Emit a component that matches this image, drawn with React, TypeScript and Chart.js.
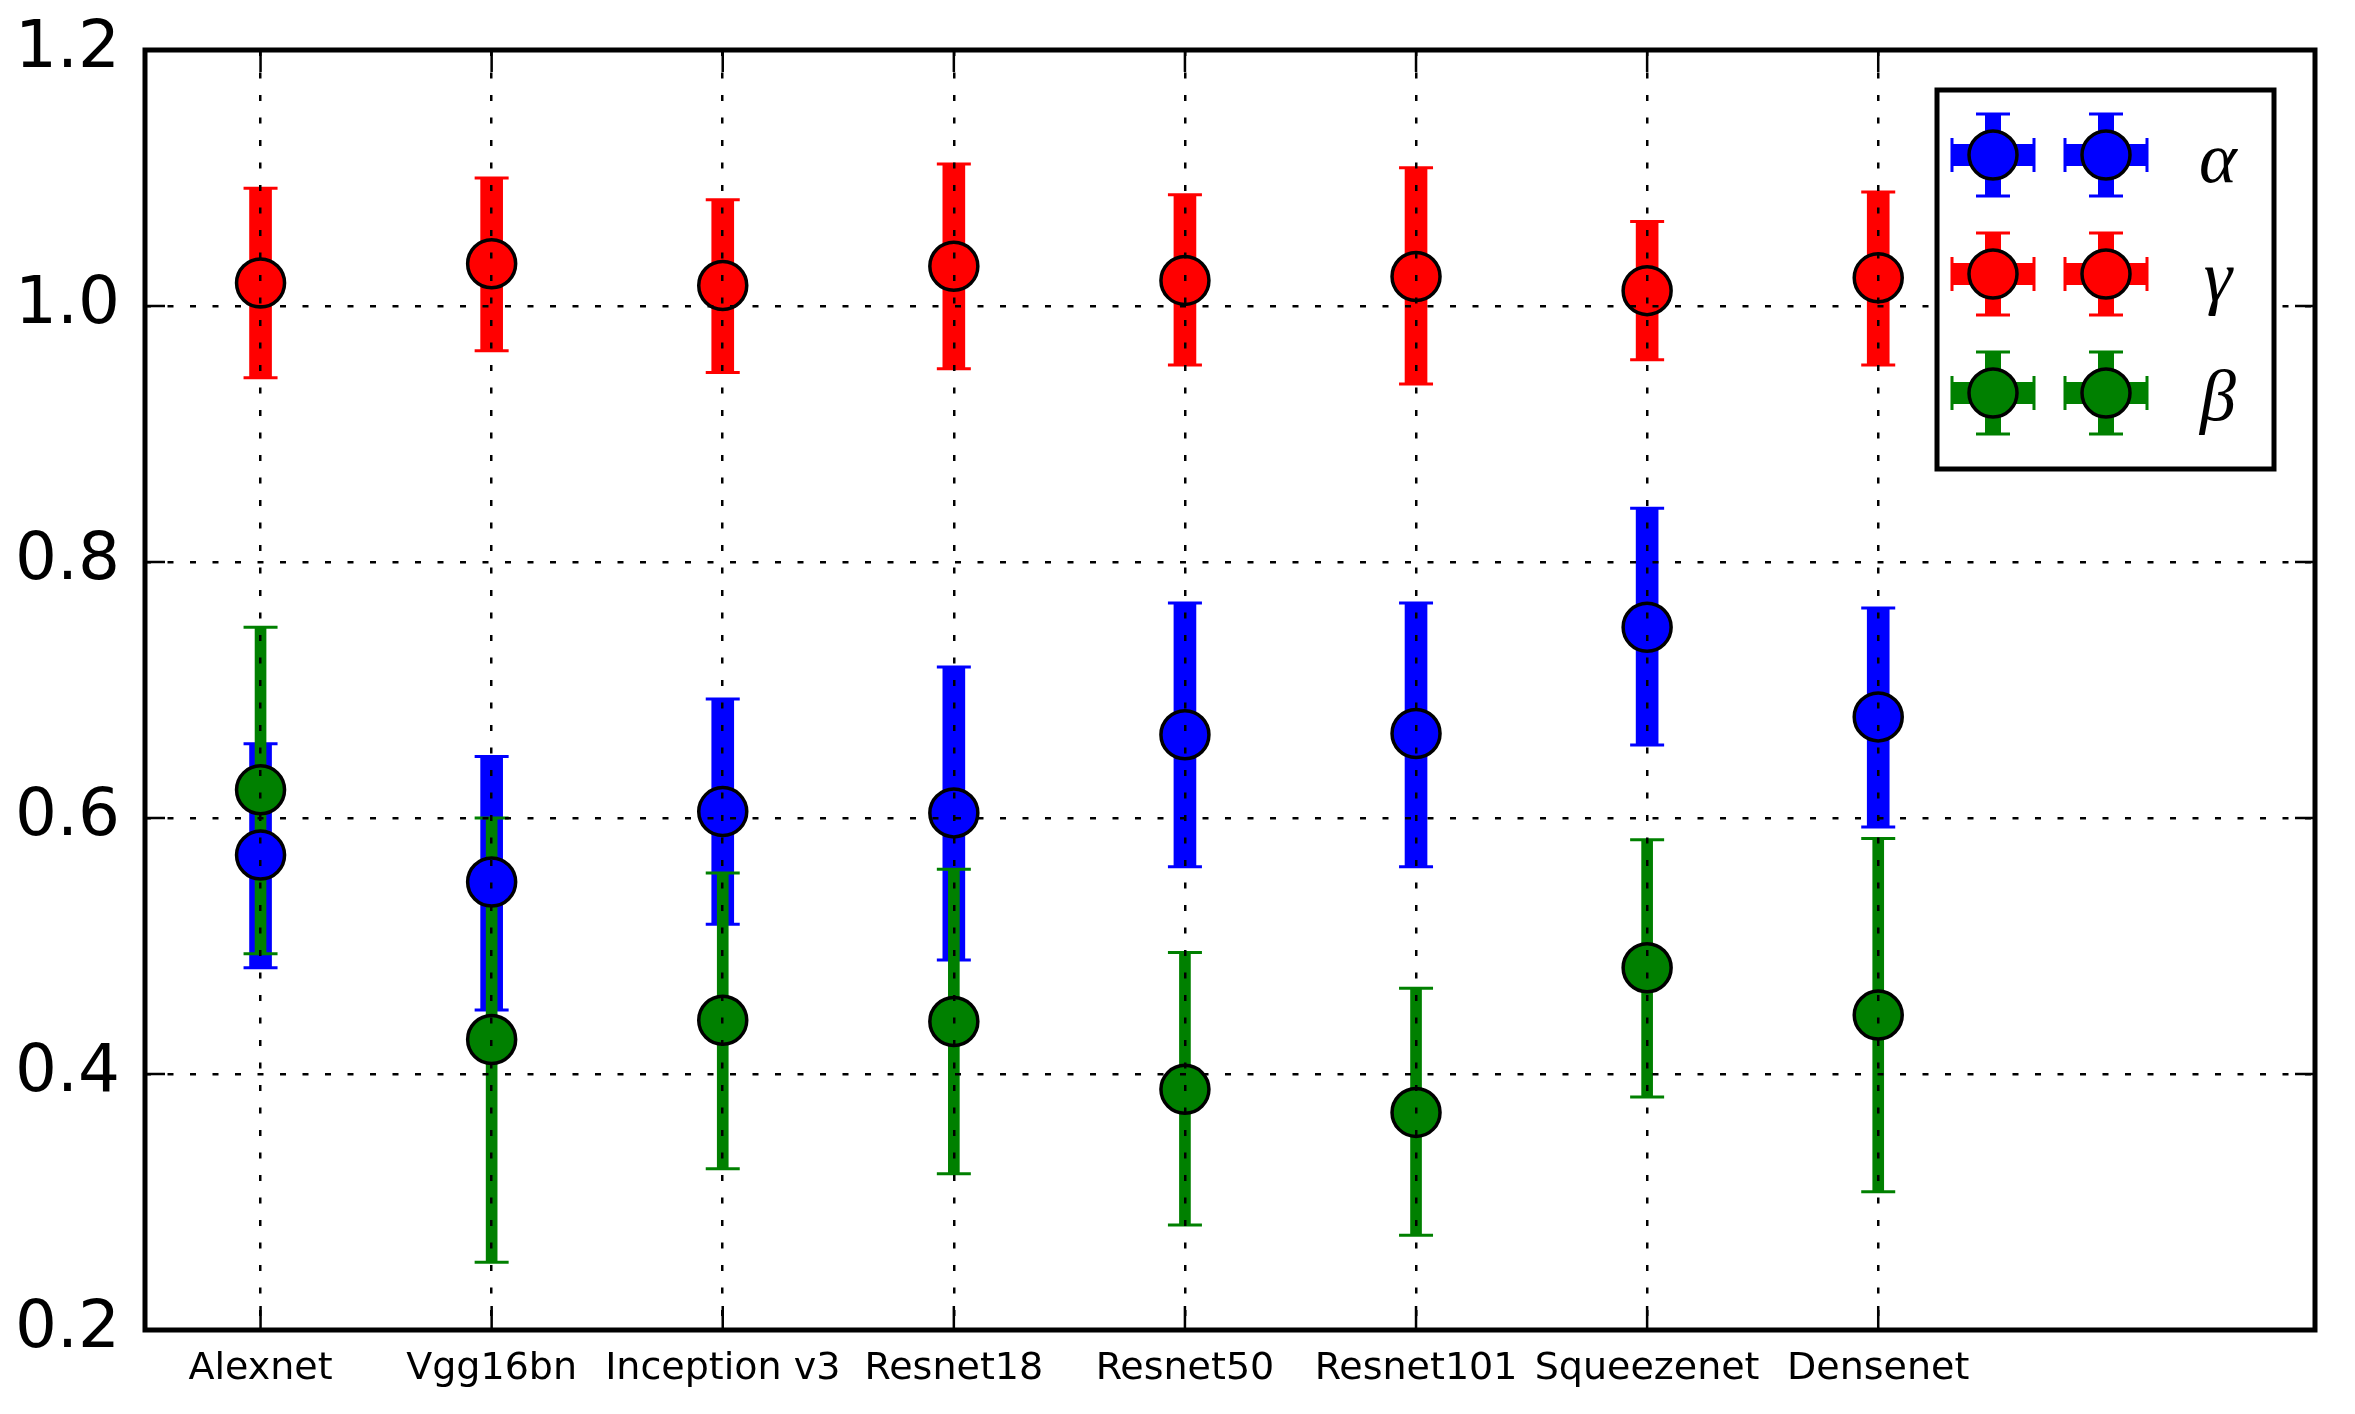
import React, { useEffect, useRef } from 'react';
import { Chart, registerables } from 'chart.js';

Chart.register(...registerables);

const categories = ['Alexnet', 'Vgg16bn', 'Inception v3', 'Resnet18', 'Resnet50', 'Resnet101', 'Squeezenet', 'Densenet'];

// alpha (blue)
const alphaMean = [0.571, 0.55, 0.605, 0.604, 0.665, 0.666, 0.749, 0.679];
const alphaLow = [0.483, 0.45, 0.517, 0.489, 0.562, 0.562, 0.657, 0.593];
const alphaHigh = [0.658, 0.648, 0.693, 0.718, 0.768, 0.768, 0.842, 0.764];

// gamma (red)
const gammaMean = [1.018, 1.033, 1.016, 1.031, 1.02, 1.023, 1.012, 1.022];
const gammaLow = [0.944, 0.965, 0.948, 0.951, 0.954, 0.939, 0.958, 0.954];
const gammaHigh = [1.092, 1.1, 1.083, 1.111, 1.087, 1.108, 1.066, 1.089];

// beta (green)
const betaMean = [0.622, 0.427, 0.442, 0.441, 0.388, 0.37, 0.483, 0.446];
const betaLow = [0.494, 0.253, 0.326, 0.322, 0.282, 0.274, 0.382, 0.308];
const betaHigh = [0.749, 0.6, 0.557, 0.56, 0.495, 0.467, 0.583, 0.584];

const yTicks = [0.2, 0.4, 0.6, 0.8, 1.0, 1.2];

const legendItems = [
  { label: 'α', color: '#0000ff' },
  { label: 'γ', color: '#ff0000' },
  { label: 'β', color: '#008000' },
];

const bars = (label: string, low: number[], high: number[], color: string, thickness: number, order: number) => ({
  type: 'bar' as const,
  label,
  data: low.map((lo, i) => ({ x: i, y: [lo, high[i]] })),
  backgroundColor: color,
  borderWidth: 0,
  barThickness: thickness,
  grouped: false,
  order,
});

const caps = (label: string, low: number[], high: number[], color: string, order: number) => ({
  type: 'scatter' as const,
  label,
  data: [...low.map((v, i) => ({ x: i, y: v })), ...high.map((v, i) => ({ x: i, y: v }))],
  pointStyle: 'line',
  pointRadius: 17,
  pointBorderWidth: 3,
  pointBorderColor: color,
  borderColor: color,
  showLine: false,
  order,
});

const markers = (label: string, mean: number[], color: string, order: number) => ({
  type: 'scatter' as const,
  label,
  data: mean.map((v, i) => ({ x: i, y: v })),
  pointStyle: 'circle',
  pointRadius: 24,
  pointBorderWidth: 3.5,
  pointBackgroundColor: color,
  pointBorderColor: '#000',
  showLine: false,
  order,
});

// frame, inward ticks and the errorbar legend
const framePlugin = {
  id: 'frameAndLegend',
  afterDraw(chart: Chart) {
    const { ctx, chartArea: a, scales } = chart;
    const x = scales.x;
    const y = scales.y;
    ctx.save();
    ctx.strokeStyle = '#000';
    ctx.lineWidth = 2.5;
    ctx.setLineDash([]);
    categories.forEach((_, i) => {
      const px = x.getPixelForValue(i);
      ctx.beginPath();
      ctx.moveTo(px, a.bottom);
      ctx.lineTo(px, a.bottom - 24);
      ctx.moveTo(px, a.top);
      ctx.lineTo(px, a.top + 22);
      ctx.stroke();
    });
    yTicks.slice(1, -1).forEach(v => {
      const py = y.getPixelForValue(v);
      ctx.beginPath();
      ctx.moveTo(a.left, py);
      ctx.lineTo(a.left + 20, py);
      ctx.moveTo(a.right, py);
      ctx.lineTo(a.right - 20, py);
      ctx.stroke();
    });
    ctx.lineWidth = 5;
    ctx.strokeRect(a.left, a.top, a.right - a.left, a.bottom - a.top);

    // legend
    const bx = a.right - 378;
    const by = a.top + 40;
    const bw = 337;
    const bh = 379;
    ctx.fillStyle = '#fff';
    ctx.fillRect(bx, by, bw, bh);
    ctx.lineWidth = 5;
    ctx.strokeRect(bx, by, bw, bh);
    legendItems.forEach((item, r) => {
      const cy = by + 65 + r * 119;
      [bx + 56, bx + 169].forEach(cx => {
        ctx.fillStyle = item.color;
        ctx.fillRect(cx - 41, cy - 11, 82, 22);
        ctx.fillRect(cx - 8, cy - 41, 16, 82);
        ctx.strokeStyle = item.color;
        ctx.lineWidth = 3;
        ctx.beginPath();
        ctx.moveTo(cx - 41, cy - 17);
        ctx.lineTo(cx - 41, cy + 17);
        ctx.moveTo(cx + 41, cy - 17);
        ctx.lineTo(cx + 41, cy + 17);
        ctx.moveTo(cx - 17, cy - 41);
        ctx.lineTo(cx + 17, cy - 41);
        ctx.moveTo(cx - 17, cy + 41);
        ctx.lineTo(cx + 17, cy + 41);
        ctx.stroke();
        ctx.beginPath();
        ctx.arc(cx, cy, 24, 0, Math.PI * 2);
        ctx.fill();
        ctx.strokeStyle = '#000';
        ctx.lineWidth = 3.5;
        ctx.stroke();
      });
      ctx.fillStyle = '#000';
      ctx.font = 'italic 72px "Liberation Serif"';
      ctx.textAlign = 'center';
      ctx.textBaseline = 'alphabetic';
      ctx.fillText(item.label, bx + 281, cy + 27);
    });
    ctx.restore();
  },
};

const ErrorbarChart: React.FC = () => {
  const chartRef = useRef<HTMLCanvasElement>(null);
  const chartInstanceRef = useRef<Chart | null>(null);

  useEffect(() => {
    if (!chartRef.current) return;
    if (chartInstanceRef.current) {
      chartInstanceRef.current.destroy();
    }
    const ctx = chartRef.current.getContext('2d');
    if (!ctx) return;

    chartInstanceRef.current = new Chart(ctx, {
      type: 'scatter',
      data: {
        datasets: [
          bars('alpha bars', alphaLow, alphaHigh, '#0000ff', 22, 9),
          caps('alpha caps', alphaLow, alphaHigh, '#0000ff', 8),
          bars('gamma bars', gammaLow, gammaHigh, '#ff0000', 22, 7),
          caps('gamma caps', gammaLow, gammaHigh, '#ff0000', 6),
          bars('beta bars', betaLow, betaHigh, '#008000', 11, 5),
          caps('beta caps', betaLow, betaHigh, '#008000', 4),
          markers('α', alphaMean, '#0000ff', 3),
          markers('γ', gammaMean, '#ff0000', 2),
          markers('β', betaMean, '#008000', 1),
        ] as any,
      },
      plugins: [framePlugin],
      options: {
        animation: false,
        responsive: true,
        maintainAspectRatio: false,
        events: [],
        layout: { padding: { top: 50, right: 40, left: 0, bottom: 0 } },
        plugins: {
          legend: { display: false },
          tooltip: { enabled: false },
        },
        scales: {
          x: {
            type: 'linear',
            min: -0.5,
            max: 8.89,
            offset: false,
            afterBuildTicks: (axis: any) => {
              axis.ticks = categories.map((_, i) => ({ value: i }));
            },
            afterFit: (axis: any) => {
              axis.height = 84;
              axis.paddingLeft = 0;
              axis.paddingRight = 0;
            },
            // grid on top of the data, as in the original
            grid: { color: '#000', lineWidth: 2.5, drawTicks: false, offset: false, z: 1 },
            border: { display: false, dash: [6, 16.5] },
            ticks: {
              autoSkip: false,
              maxRotation: 0,
              padding: 16,
              color: '#000',
              font: { family: 'DejaVu Sans', size: 38 },
              callback: (v: any) => categories[v] ?? '',
            },
          },
          y: {
            type: 'linear',
            min: 0.2,
            max: 1.2,
            afterBuildTicks: (axis: any) => {
              axis.ticks = yTicks.map(v => ({ value: v }));
            },
            afterFit: (axis: any) => {
              axis.width = 145;
              axis.paddingTop = 0;
              axis.paddingBottom = 0;
            },
            grid: { color: '#000', lineWidth: 2.5, drawTicks: false, z: 1 },
            border: { display: false, dash: [6, 16.5] },
            ticks: {
              padding: 25,
              color: '#000',
              font: { family: 'DejaVu Sans', size: 66 },
              callback: (v: any) => Number(v).toFixed(1),
            },
          },
        },
      },
    });

    return () => {
      if (chartInstanceRef.current) {
        chartInstanceRef.current.destroy();
        chartInstanceRef.current = null;
      }
    };
  }, []);

  return (
    <div style={{ position: 'fixed', left: 0, top: 0, width: 2355, height: 1414, background: '#fff' }}>
      <canvas ref={chartRef} />
    </div>
  );
};

export default function App() {
  return <ErrorbarChart />;
}
